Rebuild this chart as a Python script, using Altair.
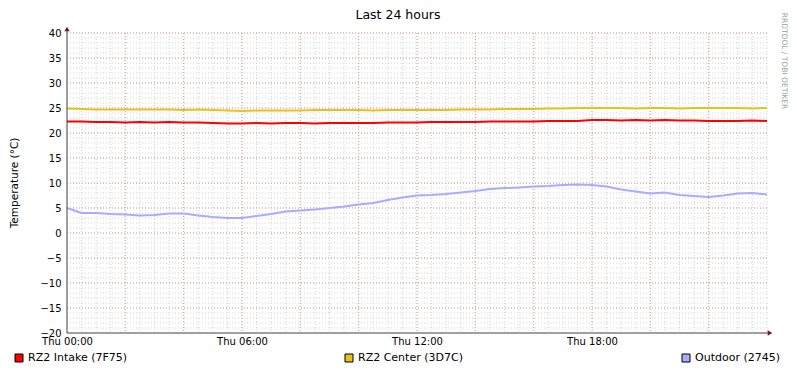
import altair as alt
import pandas as pd

# ---- data ----
hours = [i * 0.5 for i in range(49)]
intake = [22.3, 22.3, 22.2, 22.2, 22.1, 22.2, 22.1, 22.2, 22.1, 22.1, 22.0, 21.9, 21.9,
          22.0, 21.9, 22.0, 22.0, 21.9, 22.0, 22.0, 22.0, 22.0, 22.1, 22.1, 22.1, 22.2,
          22.2, 22.2, 22.2, 22.3, 22.3, 22.3, 22.3, 22.4, 22.4, 22.4, 22.6, 22.6, 22.5,
          22.6, 22.5, 22.6, 22.5, 22.5, 22.4, 22.4, 22.4, 22.5, 22.4]
center = [24.9, 24.8, 24.7, 24.7, 24.7, 24.7, 24.7, 24.7, 24.6, 24.7, 24.6, 24.5, 24.4,
          24.5, 24.5, 24.5, 24.5, 24.6, 24.6, 24.6, 24.6, 24.5, 24.6, 24.6, 24.6, 24.6,
          24.6, 24.7, 24.7, 24.7, 24.8, 24.8, 24.8, 24.9, 24.9, 25.0, 25.0, 25.0, 25.0,
          24.9, 25.0, 25.0, 24.9, 25.0, 25.0, 25.0, 25.0, 24.9, 25.0]
outdoor = [5.0, 4.0, 4.0, 3.8, 3.7, 3.5, 3.6, 3.9, 3.9, 3.5, 3.2, 3.0, 3.0,
           3.4, 3.8, 4.3, 4.5, 4.7, 5.0, 5.3, 5.7, 6.0, 6.6, 7.1, 7.5, 7.6,
           7.8, 8.1, 8.4, 8.8, 9.0, 9.1, 9.3, 9.4, 9.6, 9.7, 9.6, 9.3, 8.7,
           8.3, 7.9, 8.1, 7.6, 7.4, 7.2, 7.5, 7.9, 8.0, 7.7]
series_names = ["RZ2 Intake (7F75)", "RZ2 Center (3D7C)", "Outdoor (2745)"]
series_colors = ["#FF0000", "#EBC01E", "#AAAAFF"]
x_ticks = [0, 6, 12, 18]
y_ticks = list(range(-20, 45, 5))

rows = []
for name, vals in zip(series_names, [intake, center, outdoor]):
    for h, v in zip(hours, vals):
        rows.append({"series": name, "hour": h, "value": v})
df = pd.DataFrame(rows)

W, H = 700, 300
FONT = "DejaVu Sans"
xs = alt.Scale(domain=[0, 24], nice=False, zero=False)
ys = alt.Scale(domain=[-20, 40], nice=False, zero=False)
cs = alt.Scale(domain=series_names, range=series_colors)

x_axis = alt.Axis(values=x_ticks, title=None, grid=False, domain=False, ticks=False,
                  labelPadding=3, labelFlush=False, labelOverlap=False,
                  labelExpr="'Thu ' + (datum.value < 10 ? '0' : '') + datum.value + ':00'")
y_axis = alt.Axis(values=y_ticks, title=None, grid=False, domain=False, ticks=False,
                  labelPadding=6, labelFlush=False, labelOverlap=False)

minor_x = pd.DataFrame({"v": [i * 0.5 for i in range(1, 49)]})
major_x = pd.DataFrame({"v": [i for i in range(2, 24, 2)]})
minor_y = pd.DataFrame({"v": [v for v in range(-19, 41)]})
major_y = pd.DataFrame({"v": [v for v in range(-15, 45, 5)]})

grid_minor_x = alt.Chart(minor_x).mark_rule(color="#D4D4D4", strokeDash=[1, 2], strokeWidth=1).encode(
    x=alt.X("v:Q", scale=xs, axis=x_axis))
grid_minor_y = alt.Chart(minor_y).mark_rule(color="#D4D4D4", strokeDash=[1, 2], strokeWidth=1).encode(
    y=alt.Y("v:Q", scale=ys, axis=y_axis))
grid_major_x = alt.Chart(major_x).mark_rule(color="#E39A9A", strokeDash=[1, 2], strokeWidth=1).encode(
    x=alt.X("v:Q", scale=xs, axis=x_axis))
grid_major_y = alt.Chart(major_y).mark_rule(color="#E39A9A", strokeDash=[1, 2], strokeWidth=1).encode(
    y=alt.Y("v:Q", scale=ys, axis=y_axis))

lines = alt.Chart(df).mark_line(strokeWidth=2, interpolate="linear").encode(
    x=alt.X("hour:Q", scale=xs, axis=x_axis),
    y=alt.Y("value:Q", scale=ys, axis=y_axis),
    color=alt.Color("series:N", scale=cs, legend=None),
    detail="series:N",
)

one = pd.DataFrame({"t": [""]})
axis_color = "#404040"
arrow_color = "#7F1515"
y_axis_line = alt.Chart(one).mark_rule(color=axis_color, strokeWidth=1).encode(
    x=alt.value(0), y=alt.value(-4), y2=alt.value(H))
x_axis_line = alt.Chart(one).mark_rule(color=axis_color, strokeWidth=1).encode(
    x=alt.value(0), x2=alt.value(W + 3), y=alt.value(H))
y_arrow = alt.Chart(one).mark_point(shape="triangle-up", filled=True, size=28, color=arrow_color, opacity=1).encode(
    x=alt.value(0), y=alt.value(-4))
x_arrow = alt.Chart(one).mark_point(shape="triangle-right", filled=True, size=28, color=arrow_color, opacity=1).encode(
    x=alt.value(W + 3), y=alt.value(H))

title = alt.Chart(pd.DataFrame({"t": ["Last 24 hours"]})).mark_text(
    font=FONT, fontSize=12.5, color="#000", align="center", baseline="middle").encode(
    text="t:N", x=alt.value(331), y=alt.value(-18))
ytitle = alt.Chart(pd.DataFrame({"t": ["Temperature (°C)"]})).mark_text(
    font=FONT, fontSize=10.5, color="#000", align="center", baseline="middle", angle=270).encode(
    text="t:N", x=alt.value(-52), y=alt.value(150))
credit = alt.Chart(pd.DataFrame({"t": ["RRDTOOL / TOBI OETIKER"]})).mark_text(
    font=FONT, fontSize=7.5, color="#A0A0A0", align="center", baseline="middle", angle=90).encode(
    text="t:N", x=alt.value(717), y=alt.value(28))

legend_layers = []
legend_sq_x = [-48, 282, 619]
for name, col, lx in zip(series_names, series_colors, legend_sq_x):
    legend_layers.append(alt.Chart(one).mark_square(size=64, filled=True, fill=col, stroke="#000",
                                                    strokeWidth=1, opacity=1).encode(
        x=alt.value(lx), y=alt.value(325)))
    legend_layers.append(alt.Chart(pd.DataFrame({"t": [name]})).mark_text(
        font=FONT, fontSize=11, color="#000", align="left", baseline="middle").encode(
        text="t:N", x=alt.value(lx + 9), y=alt.value(325)))

chart = alt.layer(
    grid_minor_x, grid_minor_y, grid_major_x, grid_major_y,
    lines, y_axis_line, x_axis_line, y_arrow, x_arrow,
    title, ytitle, credit, *legend_layers
).properties(
    width=W, height=H,
    autosize=alt.AutoSizeParams(type="none"),
    padding={"left": 59, "top": 25, "right": 22, "bottom": 32},
).configure_view(stroke=None).configure_axis(
    labelFont=FONT, labelFontSize=10, labelColor="#000"
)

chart.save("out.html", embed_options={"renderer": "svg", "actions": False})
